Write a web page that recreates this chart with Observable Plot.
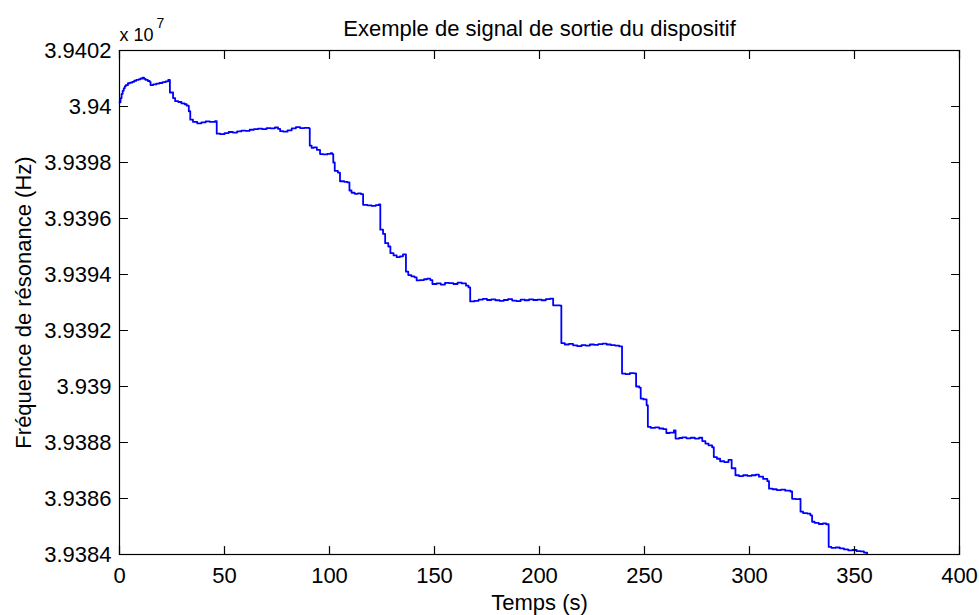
<!DOCTYPE html>
<html><head><meta charset="utf-8">
<script src="https://cdn.jsdelivr.net/npm/d3@7"></script>
<script src="https://cdn.jsdelivr.net/npm/@observablehq/plot@0.6"></script>
<style>body{margin:0;background:#fff} svg{display:block}</style>
</head><body><div id="chart"></div>
<script>
const title = "Exemple de signal de sortie du dispositif";
const xLabel = "Temps (s)";
const yLabel = "Fréquence de résonance (Hz)";
const multiplier = "x 10";
const exponent = "7";
const xTicks = [0, 50, 100, 150, 200, 250, 300, 350, 400];
const yTicks = [39384000, 39386000, 39388000, 39390000, 39392000, 39394000, 39396000, 39398000, 39400000, 39402000];
const xDomain = [0, 400];
const yDomain = [39384000, 39402000];

const time = [
  0, 0.5, 1, 1.5, 2, 2.5, 3, 4, 5, 6, 7, 8, 9, 10, 11, 11.7, 12.4, 13.5, 14.4, 14.8,
  16, 17.5, 19, 20.5, 22, 23.2, 24, 25.5, 26.5, 28, 29.5, 31, 32, 33, 33.7, 35, 37, 39, 41, 43,
  45.5, 46.3, 48, 50, 52, 54, 56, 58, 60, 62, 64, 66, 68, 70, 72, 74, 75.5, 76.5, 78, 80,
  82, 84, 86, 88, 90.3, 90.6, 91.5, 92.5, 94, 95.5, 97, 99, 100.5, 101.3, 101.8, 102.5, 104, 105, 107, 108.5,
  109.5, 110.5, 112, 113.5, 115, 116, 118, 120, 122, 123.5, 124.2, 125.5, 126.5, 128, 129, 130.5, 132, 133.5, 135, 136.4,
  137.5, 139, 140.5, 141.5, 143, 145, 146.5, 148, 149, 151, 153, 155, 157, 159, 161, 163, 165, 166.2, 167, 169,
  171, 173, 175, 177, 179, 181, 183, 185, 187, 189, 191, 193, 195, 197, 199, 201, 203, 205, 206.5, 209.8,
  210.4, 212, 214, 216, 218, 220, 222, 224, 226, 228, 230, 232, 234, 236, 238, 239.3, 241, 243, 245, 246,
  247.5, 248.2, 249.5, 251, 251.6, 253, 255, 257, 259, 260.4, 262, 264, 264.8, 266.5, 268, 270, 272, 274, 276, 277.5,
  279, 280.5, 282.2, 283, 284.5, 286, 288, 290, 291.5, 293.3, 295, 297, 299, 301, 303, 304.5, 306.5, 308.5, 309.3, 311,
  313, 315, 317, 319.5, 320.3, 322, 323.8, 324.3, 325.5, 327.5, 329, 329.8, 331, 333, 335, 336.5, 337.7, 339, 341, 343,
  345, 347, 349, 351, 353, 354.5, 356
];
const freq = [
  39400150, 39400300, 39400450, 39400560, 39400650, 39400720, 39400760, 39400830, 39400850, 39400880, 39400920, 39400950, 39400970, 39401000, 39401030, 39400990, 39400950, 39400910, 39400880, 39400760,
  39400790, 39400820, 39400840, 39400870, 39400900, 39400950, 39400500, 39400300, 39400190, 39400160, 39400110, 39400080, 39400030, 39399830, 39399530, 39399450, 39399400, 39399430, 39399470, 39399450,
  39399480, 39399030, 39399010, 39399050, 39399090, 39399070, 39399110, 39399140, 39399130, 39399170, 39399190, 39399210, 39399190, 39399230, 39399220, 39399250, 39399200, 39399120, 39399100, 39399150,
  39399220, 39399260, 39399230, 39399240, 39399220, 39398600, 39398520, 39398540, 39398450, 39398300, 39398290, 39398310, 39398330, 39398300, 39398000, 39397700, 39397640, 39397330, 39397310, 39397290,
  39397000, 39396920, 39396880, 39396900, 39396870, 39396490, 39396470, 39396450, 39396480, 39396500, 39395600, 39395450, 39395120, 39395000, 39394760, 39394680, 39394620, 39394650, 39394720, 39394100,
  39393980, 39393930, 39393900, 39393790, 39393800, 39393830, 39393850, 39393800, 39393660, 39393680, 39393640, 39393700, 39393690, 39393660, 39393710, 39393680, 39393600, 39393540, 39393040, 39393060,
  39393100, 39393130, 39393090, 39393110, 39393080, 39393060, 39393090, 39393120, 39393070, 39393050, 39393100, 39393080, 39393110, 39393090, 39393100, 39393080, 39393120, 39393140, 39392900, 39392890,
  39391550, 39391500, 39391520, 39391470, 39391440, 39391480, 39391460, 39391500, 39391490, 39391510, 39391530, 39391500, 39391480, 39391460, 39391430, 39390460, 39390440, 39390480, 39390470, 39390000,
  39389960, 39389570, 39389540, 39389330, 39388560, 39388520, 39388540, 39388500, 39388480, 39388340, 39388350, 39388430, 39388140, 39388160, 39388180, 39388150, 39388170, 39388140, 39388170, 39388050,
  39387960, 39387900, 39387830, 39387480, 39387420, 39387330, 39387300, 39387380, 39387080, 39386830, 39386800, 39386830, 39386810, 39386830, 39386850, 39386780, 39386700, 39386620, 39386350, 39386330,
  39386300, 39386320, 39386280, 39386250, 39385990, 39385980, 39385990, 39385530, 39385480, 39385460, 39385400, 39385170, 39385130, 39385090, 39385110, 39385080, 39384270, 39384240, 39384250, 39384220,
  39384180, 39384150, 39384160, 39384120, 39384110, 39384070, 39384010
];

const data = time.map((t, i) => ({t, f: freq[i]}));

const W = 979, H = 615, mL = 119, mR = 20, mT = 50, mB = 61;
const tickLen = 8;
const font = "'Liberation Sans', Arial, Helvetica, sans-serif";
const axisStroke = {stroke: "#000000", strokeWidth: 1.2};
const tickShape = {draw(context, l) { context.moveTo(0, 0); context.lineTo(0, -l); }};
const tickOpts = {length: tickLen, anchor: "start", shape: tickShape, ...axisStroke};

const chart = Plot.plot({
  width: W, height: H,
  marginLeft: mL, marginRight: mR, marginTop: mT, marginBottom: mB,
  style: {fontFamily: font, fontSize: "22px", color: "black", background: "white"},
  x: {domain: xDomain},
  y: {domain: yDomain},
  marks: [
    Plot.line(data, {x: "t", y: "f", curve: "step-after", stroke: "#0000ff", strokeWidth: 1.8}),
    Plot.frame(axisStroke),
    Plot.vector(xTicks, {x: d => d, frameAnchor: "bottom", rotate: 0, ...tickOpts}),
    Plot.vector(xTicks, {x: d => d, frameAnchor: "top", rotate: 180, ...tickOpts}),
    Plot.vector(yTicks, {y: d => d, frameAnchor: "left", rotate: 90, ...tickOpts}),
    Plot.vector(yTicks, {y: d => d, frameAnchor: "right", rotate: 270, ...tickOpts}),
    Plot.axisX({ticks: xTicks, tickSize: 0, tickPadding: 13, label: null, fontSize: 22}),
    Plot.axisY({ticks: yTicks, tickSize: 0, tickPadding: 8, label: null, fontSize: 22,
      tickFormat: d => String(+(d / 1e7).toFixed(4))}),
    Plot.text([title], {text: d => d, frameAnchor: "top", lineAnchor: "bottom", dy: -15, fontSize: 22, fill: "black"}),
    Plot.text([xLabel], {text: d => d, frameAnchor: "bottom", lineAnchor: "bottom", dy: 55, fontSize: 22, fill: "black"}),
    Plot.text([yLabel], {text: d => d, frameAnchor: "left", textAnchor: "middle", rotate: -90, lineAnchor: "bottom", dx: -89, fontSize: 22, fill: "black"}),
    Plot.text([multiplier], {text: d => d, frameAnchor: "top-left", textAnchor: "start", lineAnchor: "bottom", dx: 0, dy: -10, fontSize: 18, fill: "black"}),
    Plot.text([exponent], {text: d => d, frameAnchor: "top-left", textAnchor: "start", lineAnchor: "bottom", dx: 37, dy: -23, fontSize: 14, fill: "black"})
  ]
});
document.getElementById("chart").appendChild(chart);
</script>
</body></html>
